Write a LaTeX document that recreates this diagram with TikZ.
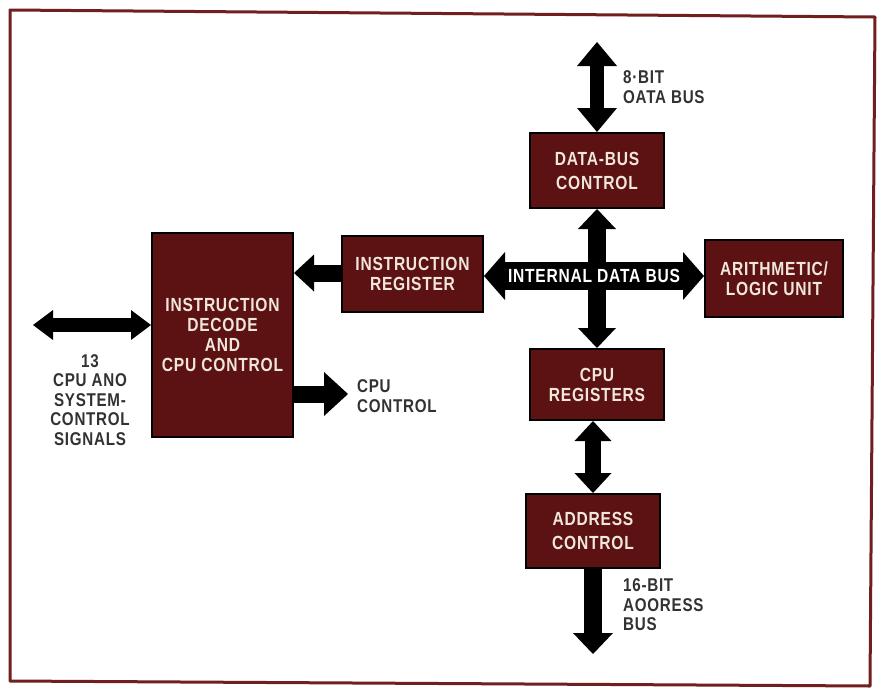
\documentclass[tikz,border=0pt]{standalone}
\usepackage{fontspec}
\setmainfont{Liberation Sans}[FakeStretch=0.82, LetterSpace=4]
\usetikzlibrary{arrows.meta,calc}
\definecolor{boxfill}{RGB}{92,18,18}
\definecolor{framec}{RGB}{112,30,30}
\definecolor{boxtext}{RGB}{240,230,220}
\definecolor{labgray}{RGB}{50,50,50}
\tikzset{
  block/.style={draw=black, line width=2pt, fill=boxfill, text=boxtext,
    font=\bfseries\fontsize{19}{20}\selectfont, align=center, inner sep=0pt},
  lab/.style={text=labgray, font=\bfseries\fontsize{18.5}{19.5}\selectfont, inner sep=0pt},
  fat/.style n args={3}{draw=black, line width=#1,
    arrows={-Triangle[width=#2,length=#3,line width=0pt]}},
  fatdbl/.style n args={3}{draw=black, line width=#1,
    arrows={Triangle[width=#2,length=#3,line width=0pt]-Triangle[width=#2,length=#3,line width=0pt]}},
}
\begin{document}
\begin{tikzpicture}[x=1pt,y=-1pt]
\useasboundingbox (0,0) rectangle (879,689);
\fill[white] (0,0) rectangle (879,689);
% frame
\draw[framec, line width=3pt, line join=round] (10,10) -- (875,17) -- (870,686) -- (10,681) -- cycle;

% blocks
\node[block, minimum width=134pt, minimum height=75pt] (dbc) at (597,170.5) {DATA-BUS\\[4pt]CONTROL};
\node[block, minimum width=141pt, minimum height=76pt] (ir) at (412.5,274) {INSTRUCTION\\REGISTER};
\node[block, minimum width=138pt, minimum height=77pt] (alu) at (774,278.5) {ARITHMETIC/\\LOGIC UNIT};
\node[block, minimum width=141pt, minimum height=204pt] (dec) at (222.5,335) {INSTRUCTION\\DECODE\\AND\\CPU CONTROL};
\node[block, minimum width=134pt, minimum height=71pt] (cpur) at (597,384.5) {CPU\\REGISTERS};
\node[block, minimum width=134pt, minimum height=74pt] (ac) at (593,531) {ADDRESS\\[4pt]CONTROL};

% free ends
\coordinate (dtop) at (597,42);
\coordinate (abot) at (596,654);
\coordinate (cc) at (348,394);
\coordinate (sig) at (33,325);
\coordinate (busy) at (0,276);

% connectors
\draw[fatdbl={14pt}{40pt}{24pt}] (dtop) -- (dbc.north);
\draw[fatdbl={18pt}{38pt}{20pt}] (dbc.south) -- (cpur.north);
\draw[fatdbl={28pt}{48pt}{21pt}] (ir.east |- busy) -- (alu.west |- busy)
  node[midway, text=white, font=\bfseries\fontsize{19}{20}\selectfont, inner sep=0pt] (idb) {INTERNAL DATA BUS};
\draw[fatdbl={16pt}{37pt}{20pt}] (ac.north |- cpur.south) -- (ac.north);
\draw[fat={18pt}{40pt}{21pt}] (ac.south) -- (ac.south |- abot);
\draw[fat={17pt}{37pt}{20pt}] (ir.west |- 0,273) -- (dec.east |- 0,273);
\draw[fat={17pt}{44pt}{24pt}] (dec.east |- cc) -- (cc);
\draw[fatdbl={14pt}{30pt}{20pt}] (sig) -- (dec.west |- sig);

% labels
\node[lab, anchor=west, align=left] (l8) at (623,87) {8·BIT\\OATA BUS};
\node[lab, anchor=north, align=center] (l13) at (90,354) {13\\CPU ANO\\SYSTEM-\\CONTROL\\SIGNALS};
\node[lab, anchor=west, align=left] (lcc) at (357,396) {CPU\\CONTROL};
\node[lab, anchor=west, align=left] (l16) at (623,605) {16-BIT\\AOORESS\\BUS};
\end{tikzpicture}
\end{document}
